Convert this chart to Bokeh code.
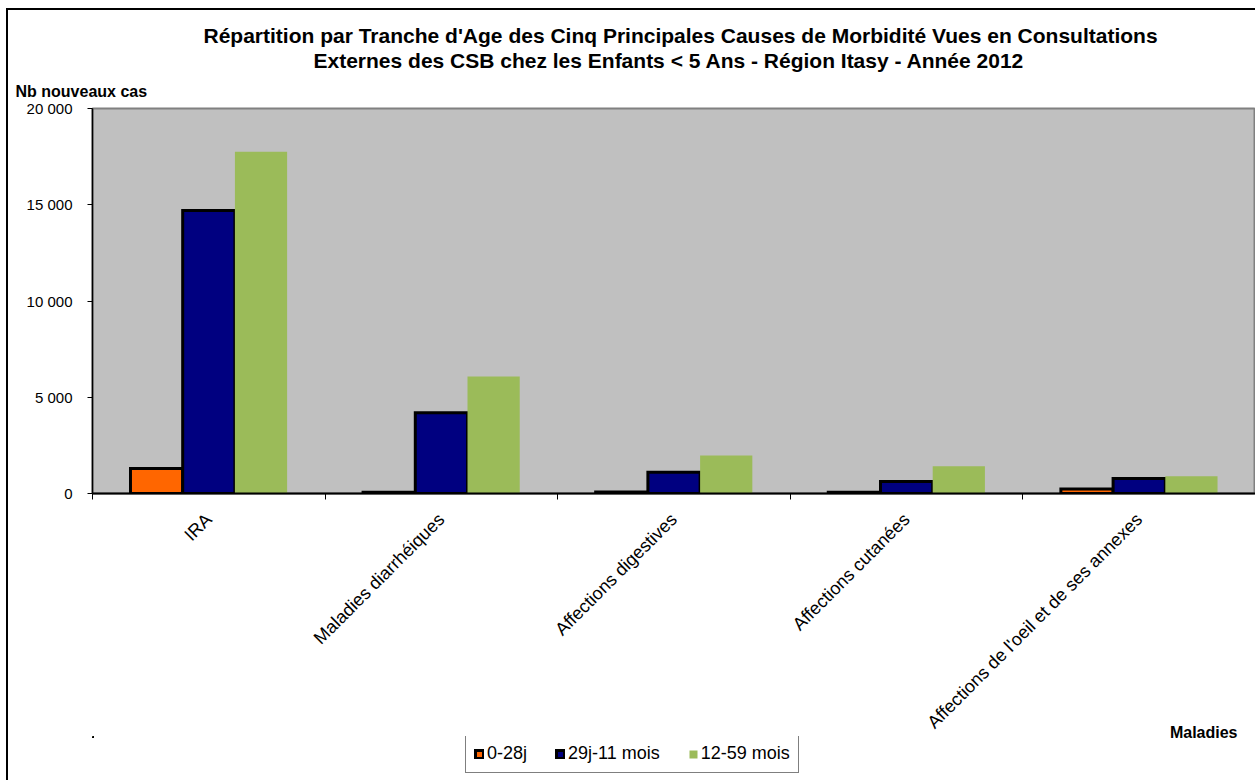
import math
from bokeh.plotting import figure
from bokeh.layouts import column
from bokeh.models import (Range1d, FixedTicker, Legend, LegendItem, Title, Label,
                          ColumnDataSource)
from bokeh.embed import file_html
from bokeh.resources import INLINE

# ---- data ----
categories = ["IRA", "Maladies diarrhéiques", "Affections digestives",
              "Affections cutanées", "Affections de l'oeil et de ses annexes"]
series_names = ["0-28j", "29j-11 mois", "12-59 mois"]
s_0_28j = [1300, 60, 80, 70, 230]
s_29j_11m = [14700, 4200, 1100, 620, 780]
s_12_59m = [17750, 6080, 1970, 1420, 900]
y_ticks = [0, 5000, 10000, 15000, 20000]
y_tick_labels = ["0", "5 000", "10 000", "15 000", "20 000"]

colors = ["#FF6600", "#000080", "#9BBB59"]
outlines = ["black", "black", None]

FONT = "Liberation Sans"

p = figure(frame_width=1163, frame_height=385, output_backend="svg", toolbar_location=None,
           x_range=Range1d(0, 5), y_range=Range1d(0, 20000),
           min_border_left=84, min_border_right=0, min_border_top=98,
           min_border_bottom=242, title=None)
p.background_fill_color = "#C0C0C0"
p.border_fill_color = "white"
p.outline_line_color = "#808080"
p.outline_line_width = 2
p.xgrid.visible = False
p.ygrid.visible = False

bw = 0.2245
sources = []
for j, (name, vals) in enumerate(zip(series_names, [s_0_28j, s_29j_11m, s_12_59m])):
    xs = [i + 0.5 + (j - 1) * bw for i in range(len(categories))]
    src = ColumnDataSource(dict(x=xs, top=vals))
    sources.append(src)
    p.vbar(x="x", top="top", width=bw, source=src, fill_color=colors[j],
           line_color=outlines[j], line_width=3 if outlines[j] else 0,
           line_join="miter")

# x axis: labels at centres, ticks at boundaries
xa = p.xaxis[0]
centers = [i + 0.5 for i in range(len(categories))]
xa.ticker = FixedTicker(ticks=centers, minor_ticks=list(range(len(categories) + 1)))
xa.major_label_overrides = {c: n for c, n in zip(centers, categories)}
xa.major_tick_line_color = None
xa.minor_tick_line_color = "black"
xa.minor_tick_out = 6
xa.minor_tick_in = 0
xa.minor_tick_line_width = 1
xa.major_label_orientation = math.pi / 4
xa.major_label_text_font = FONT
xa.major_label_text_font_size = "18px"
xa.major_label_text_color = "black"
xa.major_label_standoff = 17
xa.axis_line_color = "black"
xa.axis_line_width = 2

ya = p.yaxis[0]
ya.ticker = FixedTicker(ticks=y_ticks, minor_ticks=[])
ya.major_label_overrides = {t: l for t, l in zip(y_ticks, y_tick_labels)}
ya.major_tick_out = 5
ya.major_tick_in = 0
ya.major_tick_line_color = "black"
ya.major_label_text_font = FONT
ya.major_label_text_font_size = "15px"
ya.major_label_text_color = "black"
ya.major_label_standoff = 15
ya.axis_line_color = "black"
ya.axis_line_width = 1.5

# titles (first added sits closest to the frame)
title1 = "Répartition par Tranche d'Age des Cinq Principales Causes de Morbidité Vues en Consultations"
title2 = "Externes des CSB chez les Enfants < 5 Ans - Région Itasy - Année  2012"
p.add_layout(Title(text="Nb nouveaux cas", align="left", offset=-77, standoff=18,
                   text_font=FONT, text_font_size="16px", text_font_style="bold",
                   text_color="black"), "above")
p.add_layout(Title(text=title2, align="left", offset=221, standoff=0,
                   text_font=FONT, text_font_size="21px", text_font_style="bold",
                   text_color="black"), "above")
p.add_layout(Title(text=title1, align="left", offset=111, standoff=0,
                   text_font=FONT, text_font_size="21px", text_font_style="bold",
                   text_color="black"), "above")

# x-axis title, bottom right
p.add_layout(Label(x=4.9226, y=-12416, text="Maladies",
                   text_align="right", text_baseline="alphabetic",
                   text_font=FONT, text_font_size="16px", text_font_style="bold",
                   text_color="black"), "below")

# ---- legend strip (same series, drawn outside its visible range) ----
p2 = figure(width=1247, height=44, output_backend="svg", toolbar_location=None,
            x_range=Range1d(10, 11), y_range=Range1d(-2, -1), min_border=0,
            x_axis_location=None, y_axis_location=None, title=None)
p2.outline_line_color = None
p2.background_fill_color = None
p2.border_fill_color = None
p2.xgrid.visible = False
p2.ygrid.visible = False
p2.styles = {"margin-top": "-23px"}
swatches = []
for j, name in enumerate(series_names):
    r = p2.vbar(x="x", top="top", width=bw, source=sources[j], fill_color=colors[j],
                line_color=outlines[j], line_width=3 if outlines[j] else 0,
                line_join="miter")
    swatches.append(r)

legend = Legend(items=[LegendItem(label=n, renderers=[r]) for n, r in zip(series_names, swatches)],
                location=(373, 7), orientation="horizontal")
legend.label_text_font = FONT
legend.label_text_font_size = "18px"
legend.label_text_color = "black"
legend.glyph_width = 10
legend.glyph_height = 10
legend.label_standoff = 3
legend.spacing = 28
legend.padding = 8
legend.margin = 0
legend.border_line_color = "black"
legend.border_line_width = 1.5
legend.background_fill_color = "white"
legend.background_fill_alpha = 1
p2.add_layout(legend, "center")

layout = column(p, p2, spacing=0)
layout.styles = {"margin-left": "6px", "margin-top": "8px",
                 "border-top": "2px solid black", "border-left": "2px solid black"}

open("out.html", "w").write(file_html(layout, INLINE))
